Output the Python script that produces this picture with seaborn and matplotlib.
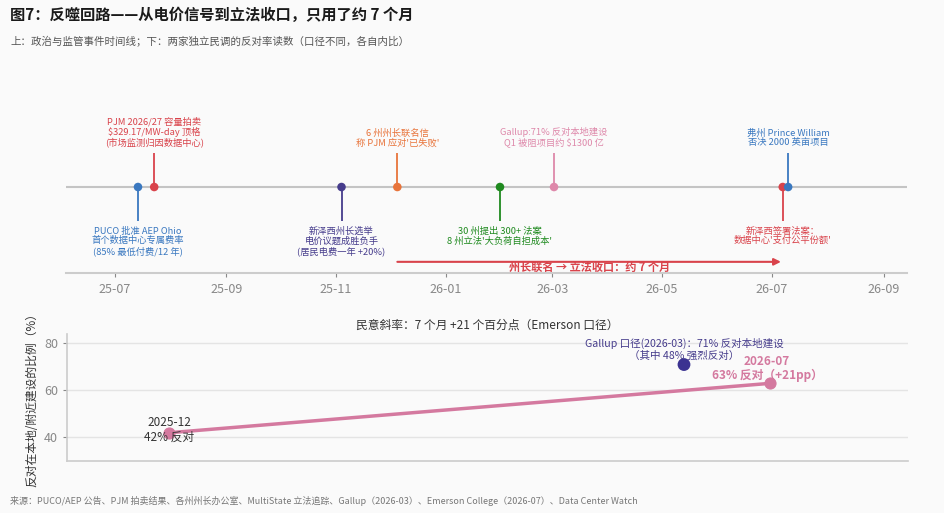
import pandas as pd
import numpy as np
import matplotlib
matplotlib.use('Agg')
import matplotlib.pyplot as plt
import matplotlib.dates as mdates
import seaborn as sns

# timeline events (upper panel)
event_dates = ['2025-07-14', '2025-07-23', '2025-11-04', '2025-12-05',
               '2026-01-31', '2026-03-02', '2026-07-07', '2026-07-10']
event_labels = [
    'PUCO 批准 AEP Ohio\n首个数据中心专属费率\n(85% 最低付费/12 年)',
    'PJM 2026/27 容量拍卖\n$329.17/MW-day 顶格\n(市场监测归因数据中心)',
    '新泽西州长选举\n电价议题成胜负手\n(居民电费一年 +20%)',
    '6 州州长联名信\n称 PJM 应对\'已失败\'',
    '30 州提出 300+ 法案\n8 州立法\'大负荷自担成本\'',
    'Gallup:71% 反对本地建设\nQ1 被阻项目约 $1300 亿',
    '新泽西签署法案：\n数据中心\'支付公平份额\'',
    '弗州 Prince William\n否决 2000 英亩项目',
]
event_side = ['below', 'above', 'below', 'above', 'below', 'above', 'below', 'above']
event_colors = ['#3a78c0', '#d9434b', '#463c8c', '#e8743b',
                '#1f8a1f', '#de88aa', '#d9434b', '#3a78c0']
arrow_text = '州长联名 → 立法收口：约 7 个月'

# polls (lower panel), x = months after 2025-12
poll_x = [0, 7]
poll_y = [42, 63]
poll_labels = ['2025-12\n42% 反对', '2026-07\n63% 反对（+21pp）']
gallup_x = [6]
gallup_y = [71]
gallup_label = 'Gallup 口径(2026-03)：71% 反对本地建设\n（其中 48% 强烈反对）'

bg = '#fafafa'
sns.set_theme(style='white')
plt.rcParams['font.family'] = ['Noto Sans CJK SC', 'DejaVu Sans']
plt.rcParams['axes.unicode_minus'] = False

fig = plt.figure(figsize=(9.45, 5.13), dpi=100, facecolor=bg)

# ---------- upper: timeline ----------
ax1 = fig.add_axes([0.0698, 0.4678, 0.89, 0.3353], facecolor=bg)
df_ev = pd.DataFrame({'date': pd.to_datetime(event_dates), 'label': event_labels,
                      'side': event_side, 'color': event_colors})
df_ev['y'] = 0.0

ax1.axhline(0, color='#c4c4c4', lw=1.5, zorder=1)
for _, r in df_ev.iterrows():
    d = 1 if r['side'] == 'above' else -1
    ax1.vlines(r['date'], 0, 0.4 * d, color=r['color'], lw=1.3, zorder=2)
    ax1.text(r['date'], 0.46 * d, r['label'], ha='center',
             va='bottom' if d > 0 else 'top', fontsize=6.7, color=r['color'],
             linespacing=1.08)
sns.scatterplot(data=df_ev, x='date', y='y', hue='label', palette=list(df_ev['color']),
                s=38, edgecolor='none', legend=False, zorder=3, ax=ax1)

start = df_ev['date'].iloc[3]
end = df_ev['date'].iloc[6]
ax1.annotate('', xy=(end - pd.Timedelta(days=1), -0.87), xytext=(start, -0.87),
             arrowprops=dict(arrowstyle='-|>', color='#d9434b', lw=1.5,
                             shrinkA=0, shrinkB=0, mutation_scale=10))
ax1.text(start + (end - start) / 2, -0.93, arrow_text, ha='center', va='center',
         fontsize=8, fontweight='bold', color='#d9434b')

ax1.set_xlim(pd.Timestamp('2025-06-04'), pd.Timestamp('2026-09-14'))
ax1.set_ylim(-1, 1)
ax1.xaxis.set_major_locator(mdates.MonthLocator(bymonth=[1, 3, 5, 7, 9, 11]))
ax1.xaxis.set_major_formatter(mdates.DateFormatter('%y-%m'))
ax1.tick_params(axis='x', colors='#888888', labelsize=9, length=3, width=0.8,
                bottom=True, pad=4)
ax1.set_yticks([])
ax1.set_xlabel('')
ax1.set_ylabel('')
for s in ['top', 'left', 'right']:
    ax1.spines[s].set_visible(False)
ax1.spines['bottom'].set_color('#cccccc')
ax1.spines['bottom'].set_linewidth(1.5)

# ---------- lower: polls ----------
ax2 = fig.add_axes([0.0709, 0.1014, 0.8899, 0.2476], facecolor=bg)
pink = '#d4799f'
sns.lineplot(x=poll_x, y=poll_y, color=pink, lw=2.5, marker='o', markersize=8,
             markeredgecolor=pink, ax=ax2, zorder=3)
sns.scatterplot(x=gallup_x, y=gallup_y, color='#3b3291', s=85, edgecolor='none',
                ax=ax2, zorder=3)

ax2.annotate(poll_labels[0], (poll_x[0], poll_y[0]), xytext=(0, 2),
             textcoords='offset points', ha='center', va='center',
             fontsize=8.5, color='#333333', linespacing=1.1)
ax2.annotate(poll_labels[1], (poll_x[1], poll_y[1]), xytext=(-2, 1),
             textcoords='offset points', ha='center', va='bottom',
             fontsize=8.5, color=pink, fontweight='bold', linespacing=1.1)
ax2.annotate(gallup_label, (gallup_x[0], gallup_y[0]), xytext=(0, 3),
             textcoords='offset points', ha='center', va='bottom',
             fontsize=7.6, color='#463c8c', linespacing=1.1)

ax2.set_xlim(-1.19, 8.61)
ax2.set_ylim(30, 84)
ax2.set_yticks([40, 60, 80])
ax2.set_xticks([])
ax2.grid(axis='y', color='#e4e4e4', lw=1)
ax2.tick_params(axis='y', colors='#888888', labelsize=9, length=3, width=0.8, left=True)
ax2.set_title('民意斜率：7 个月 +21 个百分点（Emerson 口径）', fontsize=8.5,
              color='#333333', pad=4)
ax2.set_ylabel('反对在本地/附近建设的比例（%）', fontsize=8.5, color='#333333', labelpad=4)
for s in ['top', 'right']:
    ax2.spines[s].set_visible(False)
for s in ['left', 'bottom']:
    ax2.spines[s].set_color('#cccccc')
    ax2.spines[s].set_linewidth(1.2)

# ---------- titles ----------
fig.text(0.0106, 0.970, '图7：反噬回路——从电价信号到立法收口，只用了约 7 个月',
         fontsize=11, fontweight='bold', color='#1a1a1a', va='center')
fig.text(0.0106, 0.918, '上：政治与监管事件时间线；下：两家独立民调的反对率读数（口径不同，各自内比）',
         fontsize=7.55, color='#555555', va='center')
fig.text(0.0106, 0.023,
         '来源：PUCO/AEP 公告、PJM 拍卖结果、各州州长办公室、MultiState 立法追踪、Gallup（2026-03）、'
         'Emerson College（2026-07）、Data Center Watch',
         fontsize=6.5, color='#777777', va='center')

fig.savefig('out.png', dpi=100, facecolor=bg)
